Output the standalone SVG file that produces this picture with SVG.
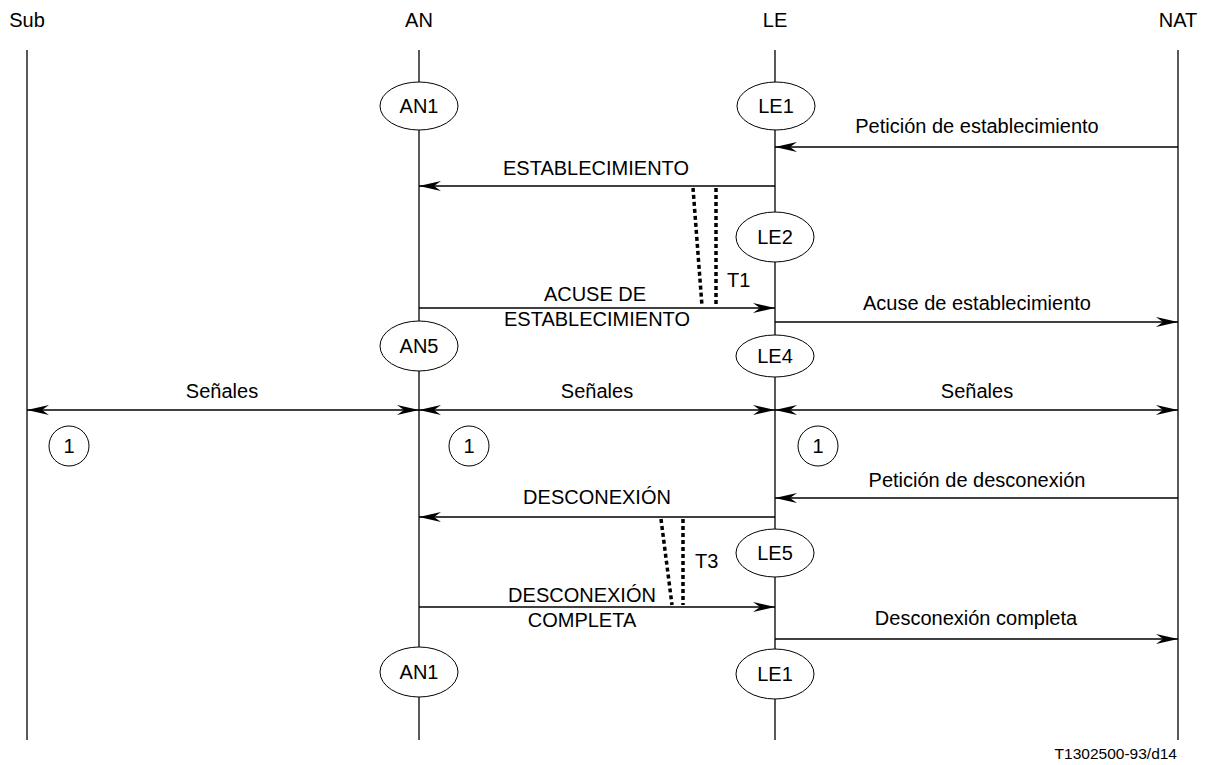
<svg xmlns="http://www.w3.org/2000/svg" width="1212" height="765" viewBox="0 0 1212 765">
<style>
text{font-family:"Liberation Sans",Arial,sans-serif;font-size:20px;fill:#000}
.c{text-anchor:middle}
.life{stroke:#000;stroke-width:1.3;fill:none}
.msg{stroke:#000;stroke-width:1.3;fill:none}
.dot{stroke:#000;stroke-width:3.5;stroke-dasharray:4 3;fill:none}
.st{fill:#fff;stroke:#000;stroke-width:1}
</style>
<defs>
<marker id="ah" markerUnits="userSpaceOnUse" markerWidth="24" markerHeight="12" refX="22" refY="6" orient="auto-start-reverse" viewBox="0 0 24 12">
<path d="M22,6 L0,1 L7,6 L0,11 Z" fill="#000"/>
</marker>
</defs>
<rect width="1212" height="765" fill="#fff"/>
<g id="lifelines">
<text class="c" x="27" y="27">Sub</text>
<text class="c" x="419" y="27">AN</text>
<text class="c" x="775" y="27">LE</text>
<text class="c" x="1178" y="27">NAT</text>
<line class="life" x1="27" y1="50" x2="27" y2="740"/>
<line class="life" x1="419" y1="50" x2="419" y2="740"/>
<line class="life" x1="775" y1="50" x2="775" y2="740"/>
<line class="life" x1="1178" y1="50" x2="1178" y2="740"/>
</g>
<g id="connectors">
<line class="msg" x1="1178" y1="147" x2="775" y2="147" marker-end="url(#ah)"/>
<line class="msg" x1="775" y1="186" x2="419" y2="186" marker-end="url(#ah)"/>
<line class="msg" x1="419" y1="308" x2="775" y2="308" marker-end="url(#ah)"/>
<line class="msg" x1="775" y1="322" x2="1178" y2="322" marker-end="url(#ah)"/>
<line class="msg" x1="27" y1="410" x2="419" y2="410" marker-start="url(#ah)" marker-end="url(#ah)"/>
<line class="msg" x1="419" y1="410" x2="775" y2="410" marker-start="url(#ah)" marker-end="url(#ah)"/>
<line class="msg" x1="775" y1="410" x2="1178" y2="410" marker-start="url(#ah)" marker-end="url(#ah)"/>
<line class="msg" x1="1178" y1="498" x2="775" y2="498" marker-end="url(#ah)"/>
<line class="msg" x1="775" y1="517" x2="419" y2="517" marker-end="url(#ah)"/>
<line class="msg" x1="419" y1="607" x2="775" y2="607" marker-end="url(#ah)"/>
<line class="msg" x1="775" y1="639" x2="1178" y2="639" marker-end="url(#ah)"/>
<line class="dot" x1="693" y1="188" x2="702" y2="306"/>
<line class="dot" x1="716" y1="188" x2="716" y2="306"/>
<line class="dot" x1="661" y1="519" x2="672" y2="605"/>
<line class="dot" x1="683" y1="519" x2="683" y2="605"/>
<text class="c" x="977" y="133">Petición de establecimiento</text>
<text class="c" x="596" y="175">ESTABLECIMIENTO</text>
<text x="727" y="287">T1</text>
<text class="c" x="595" y="301">ACUSE DE</text>
<text class="c" x="597" y="326">ESTABLECIMIENTO</text>
<text class="c" x="977" y="310">Acuse de establecimiento</text>
<text class="c" x="222" y="398">Señales</text>
<text class="c" x="597" y="398">Señales</text>
<text class="c" x="977" y="398">Señales</text>
<text class="c" x="977" y="487">Petición de desconexión</text>
<text class="c" x="597" y="504">DESCONEXIÓN</text>
<text x="695" y="568">T3</text>
<text class="c" x="582" y="602">DESCONEXIÓN</text>
<text class="c" x="582" y="627">COMPLETA</text>
<text class="c" x="976" y="625">Desconexión completa</text>
</g>
<g id="AN1a"><ellipse class="st" cx="419" cy="106" rx="39" ry="24"/><text class="c" x="419" y="113">AN1</text></g>
<g id="LE1a"><ellipse class="st" cx="776" cy="106" rx="39" ry="24"/><text class="c" x="776" y="113">LE1</text></g>
<g id="LE2"><ellipse class="st" cx="775" cy="237" rx="39" ry="25"/><text class="c" x="775" y="244">LE2</text></g>
<g id="AN5"><ellipse class="st" cx="419" cy="346" rx="39" ry="25"/><text class="c" x="419" y="353">AN5</text></g>
<g id="LE4"><ellipse class="st" cx="775" cy="356" rx="39" ry="21"/><text class="c" x="775" y="363">LE4</text></g>
<g id="c1"><circle class="st" cx="69" cy="446" r="20"/><text class="c" x="69" y="453">1</text></g>
<g id="c2"><circle class="st" cx="469" cy="446" r="20"/><text class="c" x="469" y="453">1</text></g>
<g id="c3"><circle class="st" cx="818" cy="446" r="20"/><text class="c" x="818" y="453">1</text></g>
<g id="LE5"><ellipse class="st" cx="775" cy="553" rx="39" ry="24"/><text class="c" x="775" y="560">LE5</text></g>
<g id="AN1b"><ellipse class="st" cx="419" cy="672" rx="39" ry="25"/><text class="c" x="419" y="679">AN1</text></g>
<g id="LE1b"><ellipse class="st" cx="775" cy="674" rx="39" ry="25"/><text class="c" x="775" y="681">LE1</text></g>
<text x="1177" y="759" text-anchor="end" style="font-size:15.5px">T1302500-93/d14</text>
</svg>
